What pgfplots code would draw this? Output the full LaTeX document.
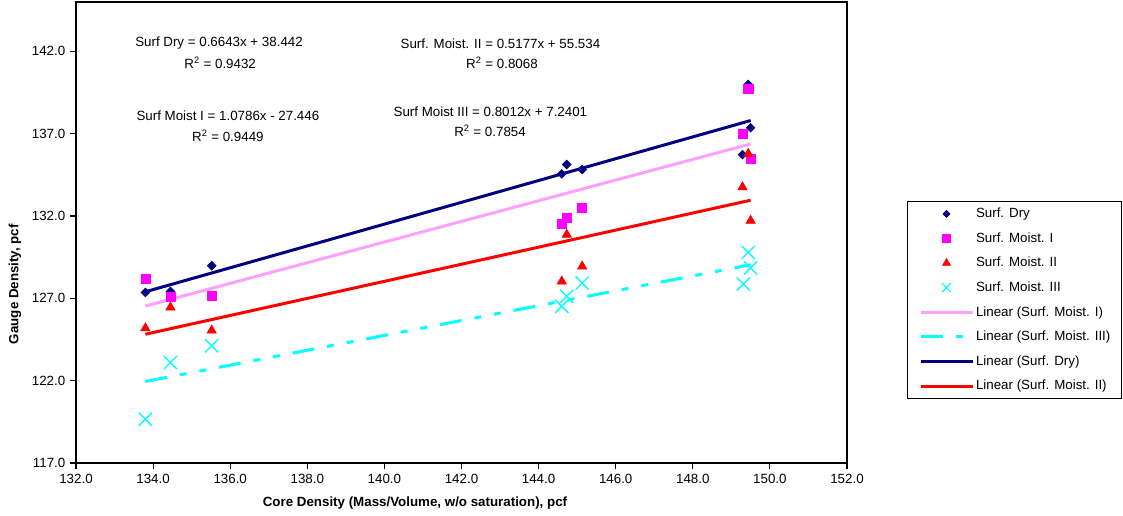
\documentclass[border=0pt]{standalone}
\usepackage{fontspec}
\setmainfont{Liberation Sans}
\usepackage{pgfplots}
\pgfplotsset{compat=1.18}
\definecolor{navyc}{RGB}{0,0,128}
\definecolor{magc}{RGB}{255,0,255}
\definecolor{redc}{RGB}{255,0,0}
\definecolor{cyanc}{RGB}{0,255,255}
\definecolor{pinkc}{RGB}{255,160,255}
\pgfplotsset{
  markleg/.style n args={3}{legend image code/.code={\path[draw=none,fill=none] (-1.5pt,0pt) -- (39pt,0pt); \path[draw=none,fill=none] plot[mark=#1, mark size=#2, mark options={#3}] coordinates {(19.5pt,0pt)};}},
  lineleg/.style={legend image code/.code={\path[draw=none] (-1.5pt,0pt) -- (0pt,0pt); \draw[##1] (0pt,0pt) -- (39pt,0pt);}},
}
\begin{document}
\begin{tikzpicture}
\useasboundingbox (-57pt,-39.75pt) rectangle (785.25pt,347.25pt);
\begin{axis}[
  scale only axis, width=578.25pt, height=345.75pt,
  xmin=132, xmax=152, ymin=117, ymax=145,
  xtick={132,134,...,152}, ytick={117,122,...,142},
  tick align=outside, xtick pos=bottom, ytick pos=left,
  major tick length=4.5pt, minor tick num=0,
  tick style={black, line width=0.8pt},
  axis line style={black, line width=1pt},
  font=\fontsize{10}{12}\selectfont,
  ticklabel style={font=\fontsize{10}{12}\selectfont},
  xticklabel style={/pgf/number format/.cd, fixed, fixed zerofill, precision=1, assume math mode=true},
  yticklabel style={/pgf/number format/.cd, fixed, fixed zerofill, precision=1, assume math mode=true},
  xlabel={\textbf{Core Density (Mass/Volume, w/o saturation), pcf}},
  ylabel={\textbf{Gauge Density, pcf}},
  xlabel style={at={(axis description cs:0.4397,-0.0868)}, anchor=center},
  ylabel style={at={(axis description cs:-0.0791,0.388)}, anchor=center},
  legend style={
    at={(axis description cs:1.0778,0.5683)}, anchor=north west,
    draw=black, line width=0.8pt, inner xsep=8.25pt, inner ysep=0pt,
    row sep=0pt, column sep=1.5pt,
    nodes={inner sep=0pt, minimum height=18.45pt, anchor=west, font=\fontsize{10}{12}\selectfont},
  },
  legend cell align=left,
]
\addplot[only marks, mark=square*, mark size=2.3pt, mark options={rotate=45, fill=navyc, draw=navyc, line width=0.5pt}, markleg={square*}{1.85pt}{rotate=45, fill=navyc, draw=navyc, line width=0.5pt}] coordinates {
(133.8,127.36) (134.45,127.42) (135.52,128.98) (144.6,134.56) (144.73,135.13) (145.13,134.82) (149.29,135.73) (149.44,139.99) (149.5,137.36)};
\addlegendentry{Surf. Dry}
\addplot[only marks, mark=square*, mark size=3.4pt, mark options={fill=magc, draw=magc, line width=0.5pt}, markleg={square*}{2.9pt}{fill=magc, draw=magc, line width=0.5pt}] coordinates {
(133.8,128.17) (134.45,127.12) (135.52,127.16) (144.6,131.54) (144.73,131.88) (145.13,132.49) (149.29,136.99) (149.44,139.73) (149.5,135.47)};
\addlegendentry{Surf. Moist. I}
\addplot[only marks, mark=triangle*, mark size=4pt, mark options={fill=redc, draw=redc, line width=0.5pt}, markleg={triangle*}{3.4pt}{fill=redc, draw=redc, line width=0.5pt}] coordinates {
(133.8,125.19) (134.45,126.45) (135.52,125.05) (144.6,128.03) (144.73,130.87) (145.13,128.94) (149.29,133.75) (149.44,135.78) (149.5,131.72)};
\addlegendentry{Surf. Moist. II}
\addplot[only marks, mark=x, mark size=7pt, mark options={draw=cyanc, line width=1pt}, markleg={x}{4.8pt}{draw=cyanc, line width=0.9pt}] coordinates {
(133.8,119.66) (134.45,123.1) (135.52,124.12) (144.6,126.51) (144.73,127.12) (145.13,127.93) (149.31,127.87) (149.44,129.79) (149.5,128.84)};
\addlegendentry{Surf. Moist. III}
\addplot[pinkc, line width=2.25pt, no marks, lineleg] coordinates {(133.8,126.53) (149.5,136.38)};
\addlegendentry{Linear (Surf. Moist. I)}
\addplot[cyanc, line width=2.25pt, no marks, dash pattern=on 16.5pt off 9.75pt on 5.25pt off 9.75pt on 5.25pt off 9.75pt, lineleg] coordinates {(133.8,121.95) (149.5,129.04)};
\addlegendentry{Linear (Surf. Moist. III)}
\addplot[navyc, line width=2.25pt, no marks, lineleg] coordinates {(133.8,127.4) (149.5,137.8)};
\addlegendentry{Linear (Surf. Dry)}
\addplot[redc, line width=2.25pt, no marks, lineleg] coordinates {(133.8,124.82) (149.5,132.96)};
\addlegendentry{Linear (Surf. Moist. II)}
\node[font=\fontsize{10}{12}\selectfont] at (axis cs:135.71,142.49) {Surf Dry = 0.6643x + 38.442};
\node[font=\fontsize{10}{12}\selectfont] at (axis cs:135.74,141.33) {R\textsuperscript{2} = 0.9432};
\node[font=\fontsize{10}{12}\selectfont] at (axis cs:143.01,142.49) {Surf. Moist. II = 0.5177x + 55.534};
\node[font=\fontsize{10}{12}\selectfont] at (axis cs:143.05,141.33) {R\textsuperscript{2} = 0.8068};
\node[font=\fontsize{10}{12}\selectfont] at (axis cs:135.94,138.11) {Surf Moist I = 1.0786x - 27.446};
\node[font=\fontsize{10}{12}\selectfont] at (axis cs:135.94,136.89) {R\textsuperscript{2} = 0.9449};
\node[font=\fontsize{10}{12}\selectfont] at (axis cs:142.75,138.35) {Surf Moist III = 0.8012x + 7.2401};
\node[font=\fontsize{10}{12}\selectfont] at (axis cs:142.74,137.19) {R\textsuperscript{2} = 0.7854};
\end{axis}
\end{tikzpicture}
\end{document}
